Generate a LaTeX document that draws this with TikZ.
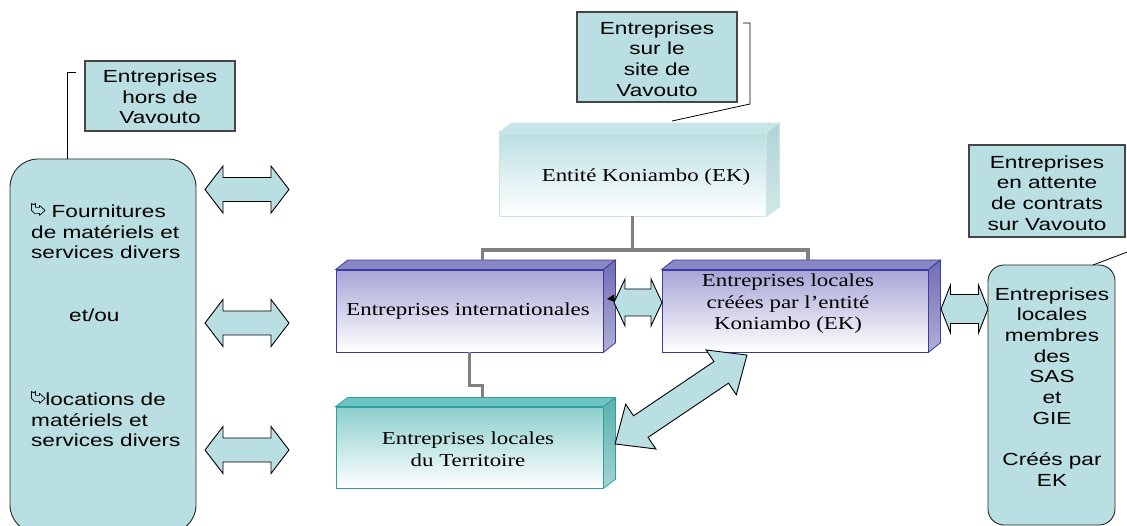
\documentclass[tikz,border=0pt]{standalone}
\usepackage{fontspec}
\setmainfont{Liberation Serif}[FakeStretch=1.25]
\newfontfamily\arialS{Liberation Sans}[FakeStretch=1.29]
\usetikzlibrary{calc}
\definecolor{teal1}{RGB}{186,223,226}
\definecolor{calbd}{RGB}{70,70,70}
\definecolor{connc}{RGB}{128,128,128}
\definecolor{purfront}{RGB}{168,165,214}
\definecolor{purtop}{RGB}{138,135,199}
\definecolor{purside}{RGB}{112,109,180}
\definecolor{purbd}{RGB}{60,60,160}
\definecolor{terfront}{RGB}{140,207,205}
\definecolor{tertop}{RGB}{110,196,194}
\definecolor{terside}{RGB}{90,176,174}
\definecolor{terbd}{RGB}{47,160,156}
\definecolor{ekfront}{RGB}{188,224,227}
\definecolor{ekside}{RGB}{176,212,214}
\definecolor{ekbd}{RGB}{200,230,232}
\newcommand\hollowarr{\tikz[baseline=0pt, x=1pt, y=1pt]\draw[line width=0.7pt, line join=round, fill=teal1]
  (1,14) -- (3,12.5) -- (5,14) -- (5,10) -- (9,10) -- (9,12) -- (14.5,7) -- (9,2) -- (9,4) -- (4,4) -- (1,7) -- cycle;}
\newcommand\dblarrow[7]{%
  \draw[blockarr, shift={(#1,#2)}, rotate=#3]
    ({-#4/2},0) -- ({-#4/2+#5},#6) -- ({-#4/2+#5},#7) -- ({#4/2-#5},#7) -- ({#4/2-#5},#6)
    -- ({#4/2},0) -- ({#4/2-#5},-#6) -- ({#4/2-#5},-#7) -- ({-#4/2+#5},-#7) -- ({-#4/2+#5},-#6) -- cycle;}
\newcommand\bevels[6]{% name, dx, dy, top colour, side colour, border
  \fill[#4, draw=#6, line width=0.8pt] (#1.north west) -- ++(#2,-#3) -- ($(#1.north east)+(#2,-#3)$) -- (#1.north east) -- cycle;
  \shade[top color=#5, bottom color=#5!55!white, draw=#6, line width=0.8pt] (#1.north east) -- ++(#2,-#3) -- ($(#1.south east)+(#2,-#3)$) -- (#1.south east) -- cycle;}
\tikzset{
  callout/.style={draw=calbd, line width=1.2pt, fill=teal1, inner sep=0pt},
  sanstxt/.style={font={\arialS\fontsize{17.5}{20.7}\selectfont}, inner sep=0pt},
  seriftxt/.style={font={\fontsize{18.3}{21.5}\selectfont}, align=center, inner sep=0pt},
  roundbox/.style={draw=black!85, line width=0.9pt, fill=teal1, inner sep=0pt},
  front/.style={line width=0.8pt, inner sep=0pt},
  conn/.style={draw=connc, line width=3.5pt},
  callline/.style={draw=black, line width=0.8pt},
  blockarr/.style={draw=black, fill=teal1, line width=0.9pt, line join=miter}
}
\begin{document}
\begin{tikzpicture}[x=1pt,y=-1pt]
\useasboundingbox (0,0) rectangle (1127,526);
\clip (0,0) rectangle (1127,526);
\fill[white] (0,0) rectangle (1127,526);

% left column
\node[roundbox, rounded corners=28pt, minimum width=186, minimum height=374] (fourn) at (103,346) {};
\node[sanstxt, align=left, anchor=west] (fourn1) at (31,231) {\hollowarr\ Fournitures\\de matériels et\\services divers};
\node[sanstxt, anchor=west] (etou) at (69,315) {et/ou};
\node[sanstxt, align=left, anchor=west] (fourn2) at (31,419) {\hollowarr locations de\\matériels et\\services divers};
\node[callout, minimum width=150, minimum height=70] (hors) at (160,96) {};
\node[sanstxt, align=center] (horst) at (160,97) {Entreprises\\hors de\\Vavouto};
\coordinate (hc) at (67,159);
\draw[callline] (hc) -- (67,72) -- (76,72);

% left double arrows
\dblarrow{247}{189.5}{0}{84}{18}{23.5}{12}
\dblarrow{247}{323}{0}{84}{18}{23.5}{12}
\dblarrow{247}{450}{0}{84}{18}{23.5}{12}

% top callout
\node[callout, minimum width=160, minimum height=90] (site) at (657,57) {};
\node[sanstxt, align=center] (sitet) at (657,59) {Entreprises\\sur le\\site de\\Vavouto};

% EK box
\node[front, draw=ekbd, top color=ekfront, bottom color=white, minimum width=267, minimum height=83] (ek) at (632.5,174.5) {};
\bevels{ek}{13}{9.5}{ekfront!85!white}{ekside}{ekbd}
\node[seriftxt] (ekt) at (646,177) {Entité Koniambo (EK)};
\draw[callline] (743,23) -- (750,23) -- (750,104) -- (672,121);

% international
\node[front, draw=purbd, top color=purfront, bottom color=white, minimum width=267, minimum height=82] (intl) at (469.5,311) {};
\bevels{intl}{12}{9.5}{purtop}{purside}{purbd}
\node[seriftxt] (intlt) at (468,311) {Entreprises internationales};

% locales creees
\node[front, draw=purbd, top color=purfront, bottom color=white, minimum width=266, minimum height=82] (cre) at (795,311) {};
\bevels{cre}{12}{9.5}{purtop}{purside}{purbd}
\node[seriftxt] (cret) at (788,304) {Entreprises locales\\créées par l’entité\\Koniambo (EK)};

% territoire
\node[front, draw=terbd, top color=terfront, bottom color=white, minimum width=267, minimum height=81] (ter) at (469.5,447.5) {};
\bevels{ter}{12}{9}{tertop}{terside}{terbd}
\node[seriftxt] (tert) at (468,449) {Entreprises locales\\du Territoire};

% grey connectors
\coordinate (intltop) at ($(intl.north)+(13,-9.5)$);
\coordinate (cretop) at ($(cre.north)+(13,-9.5)$);
\coordinate (tertop) at ($(ter.north)+(13,-9)$);
\coordinate (bus) at ($(ek.south)+(0,33.5)$);
\draw[conn] (ek.south) -- (bus) -| (intltop);
\draw[conn] (bus) -| (cretop);
\draw[conn] (intl.south) -- ++(0,33) -| (tertop);

% middle arrows
\dblarrow{638}{302.5}{0}{48}{11}{23.5}{13.5}
\fill[black] (607,299) -- (614,294.5) -- (615,302) -- cycle;
\dblarrow{964.5}{309}{0}{47}{9.5}{24}{14.5}
\dblarrow{681}{399.5}{34}{159}{31}{27}{13}

% right column
\node[roundbox, rounded corners=16pt, minimum width=127, minimum height=260] (sas) at (1051.5,395) {};
\node[sanstxt, align=center] (sast) at (1052,387) {Entreprises\\locales\\membres\\des\\SAS\\et\\GIE\\[20.7pt]Créés par\\EK};
\node[callout, minimum width=156, minimum height=92] (attente) at (1047,191) {};
\node[sanstxt, align=center] (attentet) at (1047,193) {Entreprises\\en attente\\de contrats\\sur Vavouto};
\draw[callline] (1093,265) -- (1130,251);
\end{tikzpicture}
\end{document}
